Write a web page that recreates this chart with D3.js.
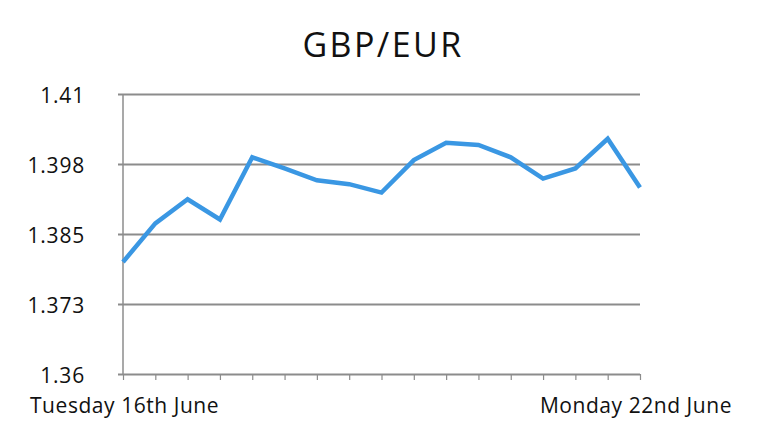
<!DOCTYPE html>
<html>
<head>
<meta charset="utf-8">
<script src="https://cdn.jsdelivr.net/npm/d3@7"></script>
<style>
  body { margin: 0; background: #fff; }
  svg text { font-family: "Open Sans", "DejaVu Sans", sans-serif; fill: #111; }
</style>
</head>
<body>
<div id="chart"></div>
<script>
// data
var title = "GBP/EUR";
var rates = [1.3800, 1.3869, 1.3912, 1.3876, 1.3987, 1.3967, 1.3946, 1.3939, 1.3924,
             1.3982, 1.4013, 1.4009, 1.3987, 1.3949, 1.3967, 1.4020, 1.3933];
var xLabels = ["Tuesday 16th June", "Monday 22nd June"];
var yTickValues = [1.36, 1.3725, 1.385, 1.3975, 1.41];
var yTickLabels = ["1.36", "1.373", "1.385", "1.398", "1.41"];

var width = 770, height = 443;
var margin = {top: 94, right: 130, bottom: 69, left: 123};

var svg = d3.select("#chart").append("svg")
    .attr("width", width)
    .attr("height", height);

var x = d3.scaleLinear()
    .domain([0, rates.length - 1])
    .range([margin.left, width - margin.right]);

var y = d3.scaleLinear()
    .domain([1.36, 1.41])
    .range([height - margin.bottom, margin.top]);

svg.append("text")
    .attr("x", 383)
    .attr("y", 57)
    .attr("text-anchor", "middle")
    .style("font-size", "34px")
    .style("letter-spacing", "2.4px")
    .text(title);

// gridlines + y labels
var yAxis = svg.append("g")
    .attr("transform", "translate(" + margin.left + ",0)")
    .call(d3.axisLeft(y)
        .tickValues(yTickValues)
        .tickFormat(function(d, i) { return yTickLabels[i]; })
        .tickSize(-(width - margin.right - margin.left))
        .tickSizeOuter(0)
        .tickPadding(38));
yAxis.select(".domain").remove();
yAxis.selectAll(".tick line")
    .attr("x1", -5)
    .attr("stroke", "#8c8c8c")
    .attr("stroke-width", 2);
yAxis.selectAll(".tick text")
    .style("font-size", "21px")
    .style("letter-spacing", "0.8px")
    .attr("dy", 8)
    .attr("fill", "#111");

// left axis line
svg.append("line")
    .attr("x1", margin.left).attr("x2", margin.left)
    .attr("y1", y(1.41)).attr("y2", y(1.36))
    .attr("stroke", "#8c8c8c")
    .attr("stroke-width", 1.5);

// bottom ticks
var xAxis = svg.append("g")
    .attr("transform", "translate(0," + y(1.36) + ")")
    .call(d3.axisBottom(x)
        .tickValues(d3.range(rates.length))
        .tickFormat("")
        .tickSize(6)
        .tickSizeOuter(0));
xAxis.select(".domain").remove();
xAxis.selectAll(".tick line")
    .attr("stroke", "#8c8c8c")
    .attr("stroke-width", 1.2);

// x labels at first and last point
svg.append("text")
    .attr("x", x(0) - 93)
    .attr("y", 413)
    .style("font-size", "21px")
    .style("letter-spacing", "0.55px")
    .text(xLabels[0]);
svg.append("text")
    .attr("x", x(rates.length - 1) + 92)
    .attr("y", 413)
    .attr("text-anchor", "end")
    .style("font-size", "21px")
    .style("letter-spacing", "0.55px")
    .text(xLabels[1]);

var line = d3.line()
    .x(function(d, i) { return x(i); })
    .y(function(d) { return y(d); });

svg.append("path")
    .datum(rates)
    .attr("fill", "none")
    .attr("stroke", "#3a97e3")
    .attr("stroke-width", 4.5)
    .attr("stroke-linejoin", "miter")
    .attr("d", line);
</script>
</body>
</html>
